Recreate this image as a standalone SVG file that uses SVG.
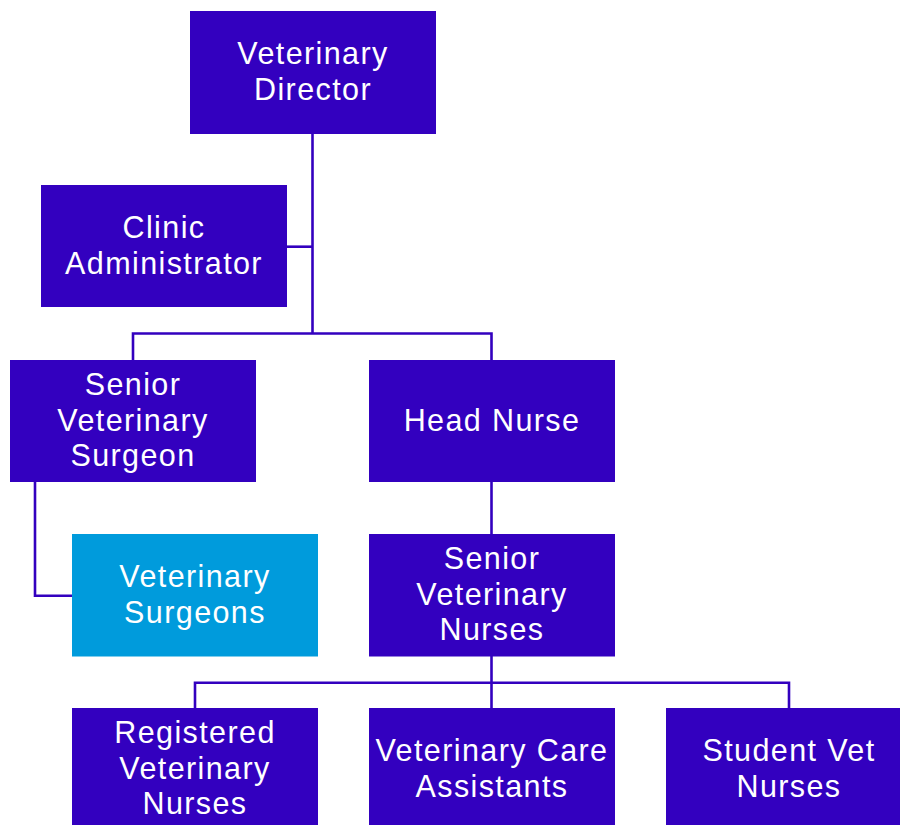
<svg xmlns="http://www.w3.org/2000/svg" width="900" height="825" viewBox="0 0 900 825">
<style>
.box{fill:#3300BF}
.lb{fill:#009BDC}
.t{fill:#FFFFFF;font-family:"Liberation Sans",Arial,sans-serif;font-size:30.5px;letter-spacing:1.4px;text-anchor:middle}
.c{fill:none;stroke:#3300BF;stroke-width:2.6}
</style>
<rect width="900" height="825" fill="#FFFFFF"/>
<g id="connectors">
<path class="c" d="M312.5 134 V333.5"/>
<path class="c" d="M287 246.7 H312.5"/>
<path class="c" d="M133 360 V333.5 H491.5 V360"/>
<path class="c" d="M35 482 V595.7 H72"/>
<path class="c" d="M491.5 482 V534"/>
<path class="c" d="M491.5 656 V708"/>
<path class="c" d="M195 708 V682.7 H789 V708"/>
</g>
<g id="director">
<rect class="box" x="190" y="11" width="246" height="123"/>
<text class="t" x="313" y="64">Veterinary</text>
<text class="t" x="313" y="100">Director</text>
</g>
<g id="clinic-administrator">
<rect class="box" x="41" y="185" width="246" height="122"/>
<text class="t" x="164" y="238">Clinic</text>
<text class="t" x="164" y="274">Administrator</text>
</g>
<g id="senior-vet-surgeon">
<rect class="box" x="10" y="360" width="246" height="122"/>
<text class="t" x="133" y="395">Senior</text>
<text class="t" x="133" y="430.5">Veterinary</text>
<text class="t" x="133" y="466">Surgeon</text>
</g>
<g id="head-nurse">
<rect class="box" x="369" y="360" width="246" height="122"/>
<text class="t" x="492" y="430.5">Head Nurse</text>
</g>
<g id="vet-surgeons">
<rect class="lb" x="72" y="534" width="246" height="122.5"/>
<text class="t" x="195" y="587">Veterinary</text>
<text class="t" x="195" y="623">Surgeons</text>
</g>
<g id="senior-vet-nurses">
<rect class="box" x="369" y="534" width="246" height="122.5"/>
<text class="t" x="492" y="569">Senior</text>
<text class="t" x="492" y="604.5">Veterinary</text>
<text class="t" x="492" y="640">Nurses</text>
</g>
<g id="registered-vet-nurses">
<rect class="box" x="72" y="708" width="246" height="122"/>
<text class="t" x="195" y="743">Registered</text>
<text class="t" x="195" y="778.5">Veterinary</text>
<text class="t" x="195" y="814">Nurses</text>
</g>
<g id="vet-care-assistants">
<rect class="box" x="369" y="708" width="246" height="122"/>
<text class="t" x="492" y="761">Veterinary Care</text>
<text class="t" x="492" y="797">Assistants</text>
</g>
<g id="student-vet-nurses">
<rect class="box" x="666" y="708" width="246" height="122"/>
<text class="t" x="789" y="761">Student Vet</text>
<text class="t" x="789" y="797">Nurses</text>
</g>
</svg>
